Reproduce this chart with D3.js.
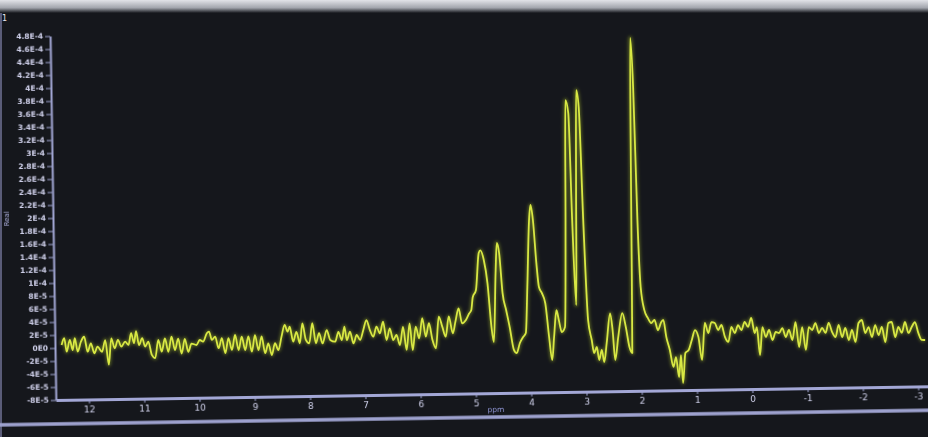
<!DOCTYPE html>
<html>
<head>
<meta charset="utf-8">
<script src="https://cdn.jsdelivr.net/npm/d3@7"></script>
<style>
  html, body { margin: 0; padding: 0; background: #15171c; }
  svg { display: block; }
</style>
</head>
<body>
<svg id="spectrum"></svg>
<script>
var width = 928, height = 437;

// chemical shift (ppm) and Real intensity (in units of 1E-5)
var baselineLeft = [
  [12.48,0.45],[12.43,1.48],[12.39,-0.6],[12.33,1.2],[12.28,-0.35],[12.24,1.45],[12.19,-0.6],[12.13,0.9],
  [12.07,1.66],[12.01,-0.65],[11.95,0.63],[11.89,-0.9],[11.83,0.1],[11.75,-0.7],[11.69,1.1],[11.63,-2.7],
  [11.58,1.35],[11.52,-0.2],[11.46,1.1],[11.40,0.05],[11.33,0.8],[11.27,0.3],[11.22,2.1],[11.17,0.55],
  [11.13,2.4],[11.08,0.25],[11.02,1.3],[10.97,0],[10.91,0.75],[10.85,-1.3],[10.79,-1.8],[10.73,1.0],
  [10.67,-0.8],[10.61,1.2],[10.55,-0.85],[10.49,1.45],[10.43,-0.6],[10.37,1.15],[10.31,-1.15],[10.25,1.1],
  [10.19,-0.9],[10.13,0.35],[10.04,0.12],[9.98,0.88],[9.92,0.62],[9.85,1.9],[9.81,2.15],[9.76,0.86],
  [9.70,1.35],[9.64,-0.43],[9.58,1.1],[9.52,-1.2],[9.46,1.1],[9.40,-0.73],[9.34,1.57],[9.28,-0.75],
  [9.22,1.3],[9.16,-0.77],[9.10,1.3],[9.04,-1.04],[8.98,1.5],[8.92,-0.8],[8.86,1.27],[8.80,-1.3],
  [8.74,0.2],[8.68,-1.6],[8.62,0.2],[8.56,-0.85],[8.50,1.2],[8.44,3.0],[8.39,1.95],[8.35,2.7],
  [8.29,0.4],[8.23,1.9],[8.17,0.14],[8.12,3.2],[8.06,0.63],[8.00,0.1],[7.94,3.2],[7.88,0.1],
  [7.82,1.63],[7.76,0.07],[7.68,2.1],[7.62,0.58],[7.53,0.3],[7.47,1.8],[7.41,0.54],[7.36,2.6],
  [7.32,0.5],[7.26,1.8],[7.20,0],[7.14,1.27],[7.08,0.5],[7.02,2.0],[6.96,3.55],[6.90,2.0],
  [6.84,0.97],[6.78,2.5],[6.72,1.48],[6.66,3.25],[6.60,0.43],[6.54,2.2],[6.48,0.4],[6.42,1.18],
  [6.36,-0.37],[6.30,2.4],[6.24,-1.15],[6.18,2.94],[6.13,-1.2],[6.07,2.4],[6.01,0.6],[5.95,3.7],
  [5.89,0.85],[5.83,2.9],[5.77,0.32],[5.71,-0.96],[5.65,3.9],[5.59,2.35],[5.53,0.8],[5.47,3.9],
  [5.40,1.3],[5.35,3.1],[5.29,5.1],[5.23,2.8],[5.16,3.3],[5.10,4.3],[5.06,4.84]
];

var peakRegion = [
  [5.03,6.8],[4.97,7.9],[4.91,13.6],[4.88,14.0],[4.82,12.5],[4.76,8.95],[4.70,2.2],[4.66,-0.14],
  [4.61,10.5],[4.58,15.1],[4.54,13.5],[4.49,7.4],[4.43,4.75],[4.37,2.1],[4.30,-1.4],[4.25,-1.9],
  [4.19,-0.35],[4.13,0.56],[4.08,1.17],[4.04,8.24],[3.99,18.5],[3.96,20.85],[3.92,18.5],[3.87,11.9],
  [3.83,8.2],[3.78,7.3],[3.72,5.7],[3.66,0.5],[3.61,-3.05],[3.57,0.48],[3.52,4.6],[3.48,3.1],
  [3.43,1.24],[3.37,2.0],[3.33,18.45],[3.30,36.9],[3.25,34.9],[3.21,18.45],[3.16,5.35],[3.13,23.5],
  [3.10,38.4],[3.06,35.8],[3.01,18.4],[2.95,3.0],[2.89,-0.07],[2.85,-2.07],[2.80,-1.15],[2.76,-3.16],
  [2.71,-1.6],[2.67,-3.5],[2.62,-0.56],[2.55,4.0],[2.51,1.4],[2.47,-3.2],[2.41,0.33],[2.33,4.0],
  [2.27,1.85],[2.21,-1.23],[2.16,-2.16],[2.14,18.3],[2.11,46.3],[2.07,38.7],[2.03,18.3],[1.99,7.97],
  [1.93,4.4],[1.87,3.2],[1.81,2.4],[1.75,2.86],[1.69,1.3],[1.63,2.5],[1.59,2.86],[1.54,0.2],
  [1.48,-1.8],[1.42,-4.4],[1.37,-2.9],[1.32,-6.0],[1.28,-2.6],[1.25,-6.9],[1.20,-2.3],[1.14,-1.84],
  [1.08,-0.3],[1.02,1.2]
];

var baselineRight = [
  [0.96,0.14],[0.90,-3.4],[0.84,2.3],[0.78,0.73],[0.72,2.4],[0.66,2.25],[0.60,1.17],[0.54,1.93],
  [0.48,0.08],[0.42,-0.7],[0.36,1.6],[0.30,0.66],[0.24,1.86],[0.18,1.1],[0.12,2.33],[0.06,1.56],
  [0.00,2.93],[-0.06,0.6],[-0.10,1.5],[-0.15,-2.8],[-0.20,1.5],[-0.26,-0.02],[-0.32,1.05],[-0.38,-0.5],
  [-0.44,0.72],[-0.50,0.56],[-0.56,1.3],[-0.62,-0.07],[-0.68,1.0],[-0.74,-0.55],[-0.80,2.2],[-0.86,-1.65],
  [-0.92,1.42],[-0.98,-2.1],[-1.04,1.4],[-1.10,0.94],[-1.16,2.0],[-1.22,0.46],[-1.28,1.22],[-1.34,0.45],
  [-1.40,1.98],[-1.46,0.58],[-1.52,-0.2],[-1.58,1.65],[-1.64,-0.21],[-1.70,1.17],[-1.76,-0.69],[-1.82,0.84],
  [-1.88,-1.0],[-1.94,1.9],[-2.00,2.36],[-2.06,0.35],[-2.12,1.26],[-2.18,-0.28],[-2.24,1.55],[-2.30,0.0],
  [-2.36,1.23],[-2.42,-1.08],[-2.48,1.83],[-2.54,1.98],[-2.60,-0.34],[-2.66,1.2],[-2.72,0.27],[-2.78,1.95],
  [-2.84,0.25],[-2.90,1.16],[-2.96,1.9],[-3.02,0.2],[-3.08,-0.86],[-3.14,-0.87]
];

var xTicks = [12, 11, 10, 9, 8, 7, 6, 5, 4, 3, 2, 1, 0, -1, -2, -3];
var xTickLabels = ["12", "11", "10", "9", "8", "7", "6", "5", "4", "3", "2", "1", "0", "-1", "-2", "-3"];
var yTicks = [48, 46, 44, 42, 40, 38, 36, 34, 32, 30, 28, 26, 24, 22, 20, 18, 16, 14, 12, 10,
              8, 6, 4, 2, 0, -2, -4, -6, -8];
var yTickLabels = ["4.8E-4", "4.6E-4", "4.4E-4", "4.2E-4", "4E-4", "3.8E-4", "3.6E-4", "3.4E-4",
  "3.2E-4", "3E-4", "2.8E-4", "2.6E-4", "2.4E-4", "2.2E-4", "2E-4", "1.8E-4", "1.6E-4", "1.4E-4",
  "1.2E-4", "1E-4", "8E-5", "6E-5", "4E-5", "2E-5", "0E0", "-2E-5", "-4E-5", "-6E-5", "-8E-5"];

var spectrum = baselineLeft.concat(peakRegion, baselineRight);

var axisColor = "#a3a7d6";
var textColor = "#cfd0ea";

var svg = d3.select("#spectrum")
    .attr("width", width)
    .attr("height", height);

var defs = svg.append("defs");
defs.append("filter").attr("id", "glow")
    .attr("filterUnits", "userSpaceOnUse")
    .attr("x", -50).attr("y", -50).attr("width", width + 100).attr("height", height + 100)
    .append("feGaussianBlur").attr("stdDeviation", 1.6);
defs.append("filter").attr("id", "soft")
    .attr("filterUnits", "userSpaceOnUse")
    .attr("x", -50).attr("y", -50).attr("width", width + 100).attr("height", height + 100)
    .append("feGaussianBlur").attr("stdDeviation", 0.35);

var topFade = defs.append("linearGradient").attr("id", "topFade")
    .attr("x1", 0).attr("y1", 0).attr("x2", 0).attr("y2", 1);
topFade.append("stop").attr("offset", "0%").attr("stop-color", "#e2e3e8");
topFade.append("stop").attr("offset", "60%").attr("stop-color", "#a2a5ad");
topFade.append("stop").attr("offset", "100%").attr("stop-color", "#15171c");

svg.append("rect").attr("width", width).attr("height", height).attr("fill", "#15171c");
svg.append("rect").attr("width", width).attr("height", 13).attr("fill", "url(#topFade)");
svg.append("rect").attr("x", 0).attr("y", 13).attr("width", 2).attr("height", height - 13)
    .attr("fill", "#5a5c78");

svg.append("text")
    .attr("x", 2).attr("y", 21)
    .attr("fill", "#e6e6f0")
    .attr("font-family", "DejaVu Sans, sans-serif")
    .attr("font-size", 8)
    .text("1");

// the photo was taken slightly tilted
var g = svg.append("g")
    .attr("transform", "rotate(-0.9, 55, 348)");

var xAxis = d3.scaleLinear()
    .domain([12.6, -3.3])
    .range([55, 934]);

var yAxis = d3.scaleLinear()
    .domain([-8, 48])
    .range([400, 36]);

// lower panel frame
g.append("line")
    .attr("x1", -20).attr("x2", 950)
    .attr("y1", 424).attr("y2", 424)
    .attr("stroke", "#9ea2cf")
    .attr("stroke-width", 3.5)
    .attr("filter", "url(#soft)");

var gx = g.append("g")
    .attr("transform", "translate(0,400)")
    .call(d3.axisBottom(xAxis)
        .tickValues(xTicks)
        .tickFormat(function (d, i) { return xTickLabels[i]; })
        .tickSize(4)
        .tickSizeOuter(0)
        .tickPadding(3));

var gy = g.append("g")
    .attr("transform", "translate(55,0)")
    .call(d3.axisLeft(yAxis)
        .tickValues(yTicks)
        .tickFormat(function (d, i) { return yTickLabels[i]; })
        .tickSize(5)
        .tickSizeOuter(0)
        .tickPadding(2));

gx.select(".domain").attr("stroke", axisColor).attr("stroke-width", 3);
gy.select(".domain").attr("stroke", axisColor).attr("stroke-width", 2);
g.selectAll(".tick line").attr("stroke", axisColor).attr("stroke-width", 1);
gx.selectAll("text")
    .attr("fill", textColor)
    .attr("font-family", "DejaVu Sans, sans-serif")
    .attr("font-size", 9)
    .attr("filter", "url(#soft)");
gy.selectAll("text")
    .attr("fill", textColor)
    .attr("font-family", "DejaVu Sans, sans-serif")
    .attr("font-size", 7.5)
    .attr("font-weight", "bold")
    .attr("filter", "url(#soft)");
g.selectAll(".domain, .tick line").attr("filter", "url(#soft)");

g.append("text")
    .attr("x", 495).attr("y", 419)
    .attr("fill", "#8f95d4")
    .attr("font-family", "DejaVu Sans, sans-serif")
    .attr("font-size", 7.5)
    .attr("text-anchor", "middle")
    .attr("filter", "url(#soft)")
    .text("ppm");

g.append("text")
    .attr("transform", "translate(11,218) rotate(-90)")
    .attr("fill", "#a9acd8")
    .attr("font-family", "DejaVu Sans, sans-serif")
    .attr("font-size", 7)
    .attr("text-anchor", "middle")
    .attr("filter", "url(#soft)")
    .text("Real");

var line = d3.line()
    .x(function (d) { return xAxis(d[0]); })
    .y(function (d) { return yAxis(d[1]); })
    .curve(d3.curveMonotoneX);

g.append("path")   /* glow under the trace */
    .datum(spectrum)
    .attr("d", line)
    .attr("fill", "none")
    .attr("stroke", "#c6dc2c")
    .attr("stroke-width", 4)
    .attr("stroke-opacity", 0.35)
    .attr("filter", "url(#glow)");

g.append("path")
    .datum(spectrum)
    .attr("d", line)
    .attr("fill", "none")
    .attr("stroke", "#d8e844")
    .attr("stroke-width", 1.8)
    .attr("stroke-linejoin", "round");
</script>
</body>
</html>
